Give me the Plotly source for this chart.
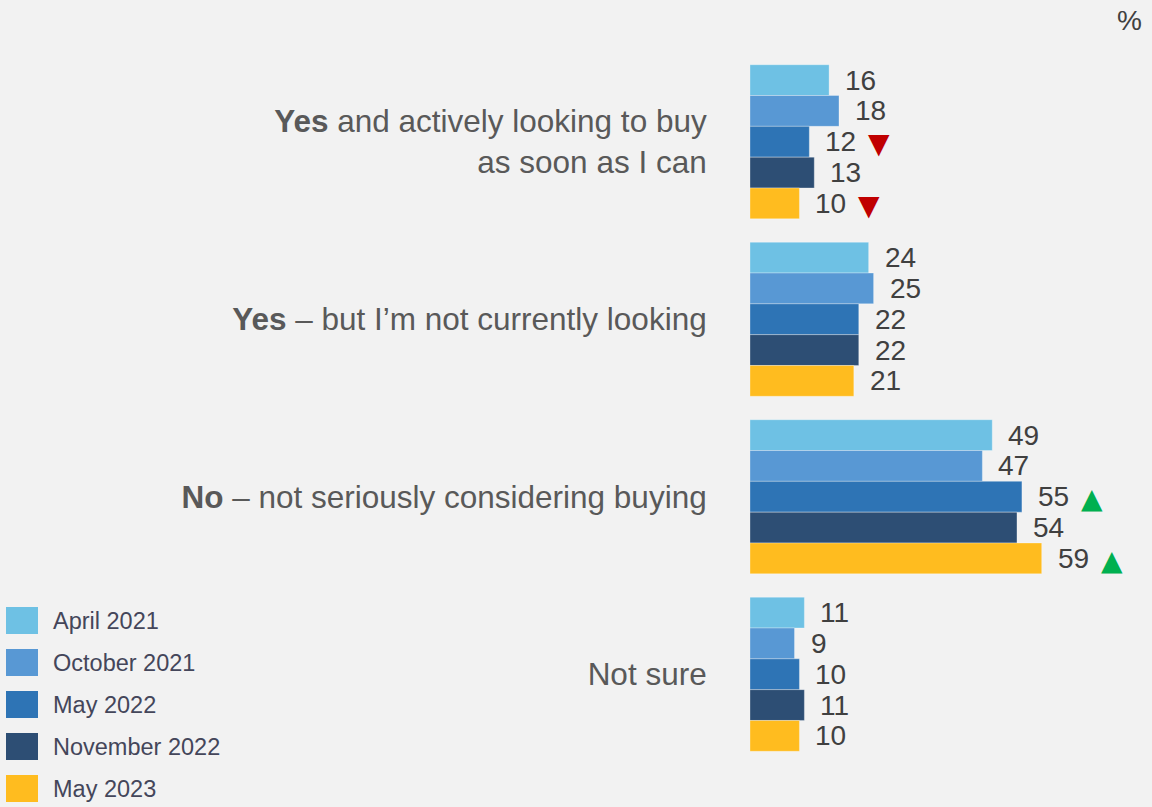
import plotly.graph_objects as go

categories = [
    "<b>Yes</b> and actively looking to buy<br>as soon as I can",
    "<b>Yes</b> – but I’m not currently looking",
    "<b>No</b> – not seriously considering buying",
    "Not sure",
]
series_names = ["April 2021", "October 2021", "May 2022", "November 2022", "May 2023"]
series_values = [
    [16, 24, 49, 11],
    [18, 25, 47, 9],
    [12, 22, 55, 10],
    [13, 22, 54, 11],
    [10, 21, 59, 10],
]
# significance flags: -1 = down, 1 = up, 0 = none
series_flags = [
    [0, 0, 0, 0],
    [0, 0, 0, 0],
    [-1, 0, 1, 0],
    [0, 0, 0, 0],
    [-1, 0, 1, 0],
]
colors = ["#6EC1E4", "#5898D4", "#2E74B5", "#2D4E74", "#FFBC1F"]

W, H = 1152, 807
L, R, T, B = 750, 0, 53, 44
plot_w = W - L - R
plot_h = H - T - B
px_per_unit = 4.944
bargap = 0.132
bar_px = plot_h / 4 * (1 - bargap) / 5
FONT = "Liberation Sans, Arial"

fig = go.Figure()
for name, vals, col in zip(series_names, series_values, colors):
    fig.add_trace(go.Bar(
        y=categories, x=vals, orientation="h", name=name,
        marker=dict(color=col, line=dict(color="rgba(255,255,255,0.3)", width=1)),
        showlegend=False, hoverinfo="skip",
    ))

annotations = []
for i, (vals, flags) in enumerate(zip(series_values, series_flags)):
    for cat, v, f in zip(categories, vals, flags):
        annotations.append(dict(
            x=v, y=cat, xref="x", yref="y", text=str(v), showarrow=False,
            xanchor="left", yanchor="middle", xshift=14,
            yshift=-(i - 2) * bar_px,
            font=dict(family=FONT, size=28, color="#404040"),
        ))
        if f != 0:
            annotations.append(dict(
                x=v, y=cat, xref="x", yref="y",
                text="▼" if f < 0 else "▲", showarrow=False,
                xanchor="left", yanchor="middle", xshift=57,
                yshift=-(i - 2) * bar_px - 2,
                font=dict(family="DejaVu Sans", size=28,
                          color="#C00000" if f < 0 else "#00B050"),
            ))

# custom legend
shapes = []
leg_y = [620.5, 662.5, 704.5, 746.5, 788.5]
for name, col, cy in zip(series_names, colors, leg_y):
    shapes.append(dict(
        type="rect", xref="paper", yref="paper",
        x0=(6 - L) / plot_w, x1=(38 - L) / plot_w,
        y0=(H - B - (cy + 13.5)) / plot_h, y1=(H - B - (cy - 13.5)) / plot_h,
        fillcolor=col, line=dict(width=0),
    ))
    annotations.append(dict(
        x=(51 - L) / plot_w, y=(H - B - cy) / plot_h, xref="paper", yref="paper",
        text=name, showarrow=False, xanchor="left", yanchor="middle",
        font=dict(family=FONT, size=23.5, color="#44465A"),
    ))

annotations.append(dict(
    x=(1144 - L) / plot_w, y=(H - B - 20) / plot_h, xref="paper", yref="paper",
    text="%", showarrow=False, xanchor="right", yanchor="middle",
    font=dict(family=FONT, size=28, color="#404040"),
))

fig.update_layout(
    width=W, height=H,
    margin=dict(l=L, r=R, t=T, b=B, autoexpand=False),
    paper_bgcolor="#F2F2F2", plot_bgcolor="#F2F2F2",
    barmode="group", bargap=bargap, bargroupgap=0,
    xaxis=dict(range=[0, plot_w / px_per_unit], visible=False, fixedrange=True),
    yaxis=dict(
        autorange="reversed", showgrid=False, zeroline=False, showline=False,
        ticks="outside", ticklen=36, tickcolor="rgba(0,0,0,0)",
        tickfont=dict(family=FONT, size=31.5, color="#595959"),
        fixedrange=True,
    ),
    annotations=annotations, shapes=shapes,
)

fig.write_html(
    "out.html",
    config={"displayModeBar": False},
    post_script="document.body.style.margin='0';document.body.style.background='#F2F2F2';",
)
